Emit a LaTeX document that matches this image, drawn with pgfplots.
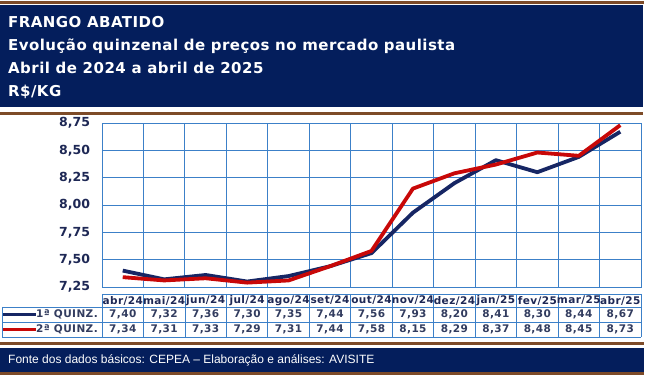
\documentclass[border=0pt]{standalone}
\usepackage{pgfplots}
\pgfplotsset{compat=1.18}
\usepackage{fontspec}
\setmainfont{Liberation Sans}
\newfontfamily\vfont{DejaVu Sans}
\newfontfamily\headfont[LetterSpace=3]{DejaVu Sans}
\newfontfamily\trackfont[LetterSpace=4]{DejaVu Sans}
\definecolor{navyc}{RGB}{4,30,92}
\definecolor{brownc}{RGB}{125,75,40}
\definecolor{lineone}{RGB}{22,38,100}
\definecolor{linetwo}{RGB}{200,8,8}
\definecolor{gridblue}{RGB}{60,128,200}
\definecolor{ticktext}{RGB}{30,40,85}
\definecolor{tabtext}{RGB}{50,60,95}
\begin{document}
\begin{tikzpicture}
\useasboundingbox (0pt,0pt) rectangle (646pt,378pt);
\fill[white] (0pt,0pt) rectangle (646pt,378pt);
\begin{scope}[x=1pt,y=1pt,shift={(0,378)},yscale=-1]
  % header
  \fill[brownc] (0,1) rectangle (644,4);
  \fill[navyc] (0,5.5) rectangle (643,107);
  \fill[brownc] (0,112) rectangle (643,115);
  \begin{scope}[every node/.style={anchor=base west,text=white,inner sep=0pt,font=\fontsize{15}{17}\headfont\bfseries}]
    \node at (8,28) {FRANGO ABATIDO};
    \node at (8,51) {Evolução quinzenal de preços no mercado paulista};
    \node at (8,74) {Abril de 2024 a abril de 2025};
    \node at (8,97) {R\$/KG};
  \end{scope}
  % table grid
  \begin{scope}[gridblue,line width=0.8pt]
    \draw (102,294) -- (641,294);
    \foreach \yy in {307,322,337} \draw (2,\yy) -- (641,\yy);
    \draw (2,307) -- (2,337);
    \foreach \k in {0,...,13} \draw ({102+\k*539/13},294) -- ({102+\k*539/13},337);
  \end{scope}
  % category labels
  \foreach \m/\yr [count=\i from 0] in {abr/24,mai/24,jun/24,jul/24,ago/24,set/24,out/24,nov/24,dez/24,jan/25,fev/25,mar/25,abr/25}
    \node[text=ticktext,inner sep=0pt,font=\fontsize{10.5}{12}\trackfont\bfseries] at ({102+(\i+0.5)*539/13},300.5) {\m/\yr};
  % values
  \foreach \a/\b [count=\i from 0] in {7.40/7.34,7.32/7.31,7.36/7.33,7.30/7.29,7.35/7.31,7.44/7.44,7.56/7.58,7.93/8.15,8.20/8.29,8.41/8.37,8.30/8.48,8.44/8.45,8.67/8.73}{
    \node[text=tabtext,inner sep=0pt,font=\fontsize{10.5}{12}\trackfont\bfseries] at ({102+(\i+0.5)*539/13},314.5) {\pgfmathprintnumber[use comma,fixed,fixed zerofill,precision=2,assume math mode=true]{\a}};
    \node[text=tabtext,inner sep=0pt,font=\fontsize{10.5}{12}\trackfont\bfseries] at ({102+(\i+0.5)*539/13},329.5) {\pgfmathprintnumber[use comma,fixed,fixed zerofill,precision=2,assume math mode=true]{\b}};
  }
  % legend keys
  \draw[lineone,line width=3pt] (3,314.5) -- (36,314.5);
  \draw[linetwo,line width=3pt] (3,329.5) -- (36,329.5);
  \node[anchor=west,text=tabtext,inner sep=0pt,font=\fontsize{10.5}{12}\trackfont\bfseries] at (36,314.5) {1ª QUINZ.};
  \node[anchor=west,text=tabtext,inner sep=0pt,font=\fontsize{10.5}{12}\trackfont\bfseries] at (36,329.5) {2ª QUINZ.};
  % footer
  \fill[brownc] (0,342.5) rectangle (644,345.5);
  \fill[navyc] (0,348) rectangle (644,371.8);
  \fill[brownc] (0,371.8) rectangle (644,374.5);
  \node[anchor=base west,text=white,inner sep=0pt,font=\fontsize{12}{14}\selectfont] at (8,363) {Fonte dos dados básicos: CEPEA – Elaboração e análises: AVISITE};
\end{scope}
\begin{axis}[
  at={(102pt,91pt)}, anchor=south west,
  scale only axis, width=539pt, height=164pt,
  xmin=-0.5, xmax=12.5, ymin=7.25, ymax=8.75,
  xtick={-0.5,0.5,...,12.5}, xticklabels={},
  ytick={7.25,7.5,7.75,8,8.25,8.5,8.75},
  xmajorgrids, ymajorgrids,
  major tick length=0pt,
  grid style={gridblue,line width=0.9pt},
  axis line style={gridblue,line width=0.9pt},
  yticklabel style={xshift=-8.5pt,
    font=\fontsize{12.5}{13}\vfont\bfseries, text=ticktext,
    /pgf/number format/.cd, use comma, fixed, fixed zerofill, precision=2, assume math mode=true},
  clip=false,
]
\addplot[lineone,line width=3.8pt,line join=round] coordinates {
  (0,7.40) (1,7.32) (2,7.36) (3,7.30) (4,7.35) (5,7.44) (6,7.56)
  (7,7.93) (8,8.20) (9,8.41) (10,8.30) (11,8.44) (12,8.67)};
\addplot[linetwo,line width=3.8pt,line join=round] coordinates {
  (0,7.34) (1,7.31) (2,7.33) (3,7.29) (4,7.31) (5,7.44) (6,7.58)
  (7,8.15) (8,8.29) (9,8.37) (10,8.48) (11,8.45) (12,8.73)};
\end{axis}
\end{tikzpicture}
\end{document}
